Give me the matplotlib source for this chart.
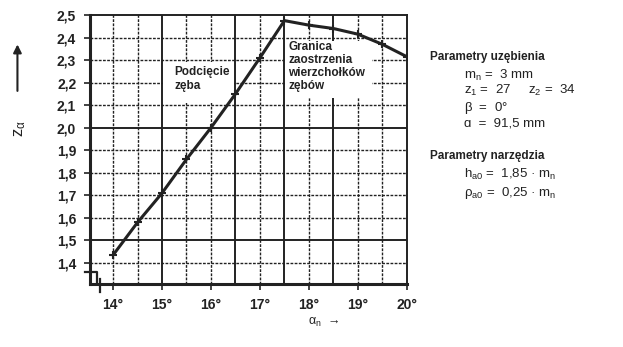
import matplotlib.pyplot as plt
from matplotlib.patches import Rectangle

plt.rcParams['font.family'] = ['Liberation Sans', 'DejaVu Sans']
plt.rcParams['mathtext.default'] = 'regular'

# odczyt z wykresu
alpha_n = [14.0, 14.5, 15.0, 15.5, 16.0, 16.5, 17.0, 17.5, 18.0, 18.5, 19.0, 19.5, 20.0]
z_alpha = [1.435, 1.58, 1.71, 1.86, 2.0, 2.15, 2.31, 2.475, 2.455, 2.44, 2.415, 2.37, 2.315]

x_ticks = [14, 15, 16, 17, 18, 19, 20]
x_labels = ["14°", "15°", "16°", "17°", "18°", "19°", "20°"]
y_ticks = [1.4, 1.5, 1.6, 1.7, 1.8, 1.9, 2.0, 2.1, 2.2, 2.3, 2.4, 2.5]
y_labels = ["1,4", "1,5", "1,6", "1,7", "1,8", "1,9", "2,0", "2,1", "2,2", "2,3", "2,4", "2,5"]

solid_v = [15.0, 16.5, 17.5, 18.5]
dashed_v = [14.0, 14.5, 15.5, 16.0, 17.0, 18.0, 19.0, 19.5]
solid_h = [1.5, 2.0]
dashed_h = [1.4, 1.6, 1.7, 1.8, 1.9, 2.1, 2.2, 2.3, 2.4]

ink = "#222222"

fig = plt.figure(figsize=(6.23, 3.47), dpi=100)
ax = fig.add_axes([0.1445, 0.1816, 0.5085, 0.7752])
ax.set_xlim(13.53, 20.0)
ax.set_ylim(1.307, 2.5)

for x in solid_v:
    ax.axvline(x, color=ink, lw=1.4, zorder=1)
for x in dashed_v:
    ax.axvline(x, color=ink, lw=1.0, ls=(0, (2, 1)), zorder=1)
for y in solid_h:
    ax.axhline(y, color=ink, lw=1.4, zorder=1)
for y in dashed_h:
    ax.axhline(y, color=ink, lw=1.0, ls=(0, (2, 1)), zorder=1)

# biale pola pod opisami
ax.add_patch(Rectangle((15.03, 2.11), 1.44, 0.18, facecolor='white', edgecolor='none', zorder=2))
ax.add_patch(Rectangle((17.53, 2.13), 1.75, 0.255, facecolor='white', edgecolor='none', zorder=2))

ax.plot(alpha_n, z_alpha, color=ink, lw=2.2, marker='+', ms=6, mew=1.5, zorder=3)

for s in ax.spines.values():
    s.set_color(ink)
    s.set_linewidth(1.4)
ax.spines['left'].set_linewidth(2.2)
ax.spines['bottom'].set_linewidth(2.2)

ax.set_xticks(x_ticks)
ax.set_xticklabels(x_labels, fontsize=10, fontweight='bold', color=ink)
ax.set_yticks(y_ticks)
ax.set_yticklabels(y_labels, fontsize=10, fontweight='bold', color=ink)
ax.tick_params(axis='both', direction='out', length=4, width=1.2, color=ink, pad=6)

# przerwanie osi
ax.plot([13.43, 13.67, 13.67], [1.358, 1.358, 1.31], color=ink, lw=1.6, clip_on=False)
ax.plot([13.73, 13.73], [1.33, 1.27], color=ink, lw=1.6, clip_on=False)

ax.text(15.25, 2.215, "Podcięcie\nzęba", fontsize=8.5, fontweight='bold', color=ink,
        va='center', ha='left', linespacing=1.2, zorder=4)
ax.text(17.58, 2.272, "Granica\nzaostrzenia\nwierzchołków\nzębów", fontsize=8.5, fontweight='bold',
        color=ink, va='center', ha='left', linespacing=1.1, zorder=4)

# opis osi
fig.text(0.032, 0.63, r"$z_\alpha$", rotation=90, fontsize=12, color=ink, ha='center', va='center')
ax.annotate("", xy=(0.028, 0.88), xytext=(0.028, 0.73), xycoords='figure fraction',
            textcoords='figure fraction',
            arrowprops=dict(arrowstyle='-|>', color=ink, lw=1.5, mutation_scale=12))
fig.text(0.52, 0.07, r"$\alpha_n$  →", fontsize=9, color=ink, ha='center', va='center')

# parametry
fs = 9.5
fig.text(0.69, 0.836, "Parametry uzębienia", fontsize=8.5, fontweight='bold', color=ink, va='center')
fig.text(0.745, 0.784, r"$m_n$ =  3 mm", fontsize=fs, color=ink, va='center')
fig.text(0.745, 0.738, r"$z_1$ =  27     $z_2$ =  34", fontsize=fs, color=ink, va='center')
fig.text(0.745, 0.690, r"$\beta$  =  0°", fontsize=fs, color=ink, va='center')
fig.text(0.745, 0.644, "ɑ  =  91,5 mm", fontsize=fs, color=ink, va='center')
fig.text(0.69, 0.55, "Parametry narzędzia", fontsize=8.5, fontweight='bold', color=ink, va='center')
fig.text(0.745, 0.496, r"$h_{a0}$ =  1,85 · $m_n$", fontsize=fs, color=ink, va='center')
fig.text(0.745, 0.444, r"$\rho_{a0}$ =  0,25 · $m_n$", fontsize=fs, color=ink, va='center')

fig.savefig("out.png", dpi=100, facecolor='white')
